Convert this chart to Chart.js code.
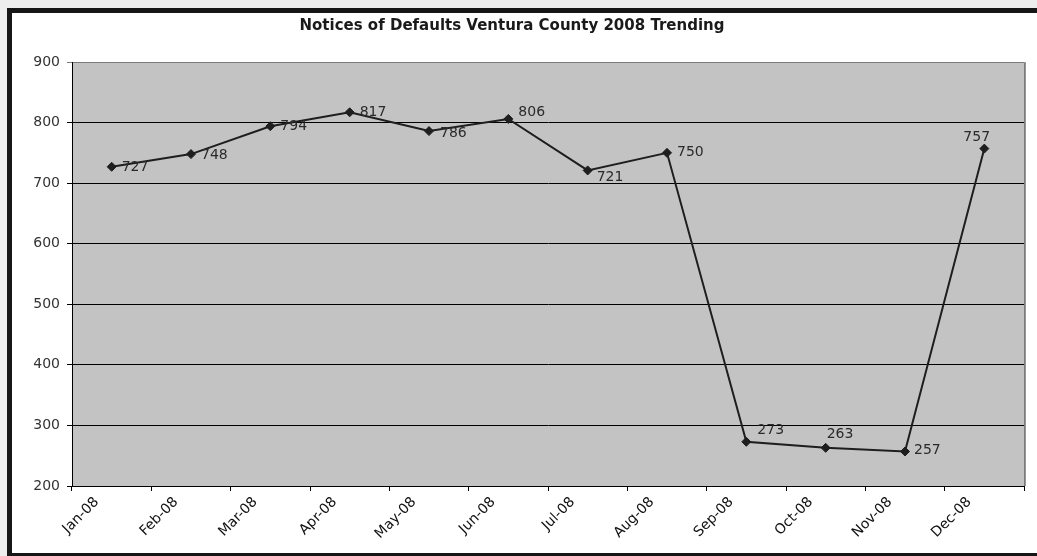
<!DOCTYPE html>
<html>
<head>
<meta charset="utf-8">
<title>Notices of Defaults Ventura County 2008 Trending</title>
<script src="https://cdn.jsdelivr.net/npm/chart.js@4/dist/chart.umd.min.js"></script>
<style>
  html, body { margin: 0; padding: 0; background: #ffffff; }
  #wrap { position: relative; width: 1037px; height: 556px; }
</style>
</head>
<body>
<div id="wrap"><canvas id="chart"></canvas></div>
<script>
// Monthly notices of default, Ventura County, 2008
const months = ['Jan-08', 'Feb-08', 'Mar-08', 'Apr-08', 'May-08', 'Jun-08',
                'Jul-08', 'Aug-08', 'Sep-08', 'Oct-08', 'Nov-08', 'Dec-08'];
const notices = [727, 748, 794, 817, 786, 806, 721, 750, 273, 263, 257, 757];
const yTicks = [200, 300, 400, 500, 600, 700, 800, 900];

// Where each value label sits relative to its marker (dx, dy in px)
const labelPlacement = [
  [10, 1], [10, 1], [10, 0], [10, 0], [11, 2], [10, -7],
  [9, 7], [10, 0], [11, -11], [1, -13], [9, -1], [-21, -11]
];

const INK = '#1e1e1e';
const FONT = '"DejaVu Sans", Verdana, sans-serif';

// Frame, page edge and grey plot panel
const framePlugin = {
  id: 'frame',
  beforeDraw(chart) {
    const { ctx, width, height, chartArea: a } = chart;
    ctx.save();
    ctx.fillStyle = '#ffffff';
    ctx.fillRect(0, 0, width, height);
    ctx.fillStyle = '#eeeeee';
    ctx.fillRect(0, 0, width, 8);
    ctx.fillRect(0, 0, 7, height);
    ctx.fillStyle = '#161616';
    ctx.fillRect(7, 8, width - 7, 5);
    ctx.fillRect(7, 8, 5, height - 8);
    ctx.fillRect(7, height - 3, width - 7, 3);
    // plot panel
    ctx.fillStyle = '#c3c3c3';
    ctx.fillRect(a.left, a.top, a.right - a.left, a.bottom - a.top);
    ctx.strokeStyle = '#7a7a7a';
    ctx.lineWidth = 1;
    ctx.beginPath();
    ctx.moveTo(a.left, a.top + 0.5);
    ctx.lineTo(a.right + 0.5, a.top + 0.5);
    ctx.lineTo(a.right + 0.5, a.bottom);
    ctx.stroke();
    ctx.strokeStyle = '#9a9a9a';
    ctx.beginPath();
    ctx.moveTo(a.right + 1.5, a.top);
    ctx.lineTo(a.right + 1.5, a.bottom);
    ctx.stroke();
    ctx.restore();
  }
};

// Value labels next to each marker
const valueLabels = {
  id: 'valueLabels',
  afterDatasetsDraw(chart) {
    const { ctx } = chart;
    const meta = chart.getDatasetMeta(0);
    const values = chart.data.datasets[0].data;
    ctx.save();
    ctx.font = '14px ' + FONT;
    ctx.fillStyle = '#2a2a2a';
    ctx.textAlign = 'left';
    ctx.textBaseline = 'middle';
    meta.data.forEach((pt, i) => {
      const [dx, dy] = labelPlacement[i];
      ctx.fillText(String(values[i]), pt.x + dx, pt.y + dy);
    });
    ctx.restore();
  }
};

new Chart(document.getElementById('chart'), {
  type: 'line',
  data: {
    labels: months,
    datasets: [{
      data: notices,
      borderColor: INK,
      borderWidth: 2,
      tension: 0,
      pointStyle: 'rectRot',
      pointRadius: 4.5,
      pointBackgroundColor: INK,
      pointBorderColor: INK,
      pointBorderWidth: 1
    }]
  },
  options: {
    responsive: true,
    maintainAspectRatio: false,
    animation: false,
    layout: { padding: { left: 0, right: 13, top: 0, bottom: 0 } },
    plugins: {
      legend: { display: false },
      tooltip: { enabled: false },
      title: {
        display: true,
        text: 'Notices of Defaults Ventura County 2008 Trending',
        color: '#1a1a1a',
        font: { family: FONT, size: 15, weight: 'bold', lineHeight: 1.2 },
        padding: { top: 17, bottom: 27 }
      }
    },
    scales: {
      x: {
        type: 'category',
        offset: true,
        afterFit(scale) { scale.height = 70; },
        grid: {
          offset: true,
          display: true,
          drawOnChartArea: false,
          drawTicks: true,
          tickLength: 5,
          color: '#000000',
          lineWidth: 1
        },
        border: { display: true, color: '#000000', width: 1 },
        ticks: {
          autoSkip: false,
          minRotation: 45,
          maxRotation: 45,
          padding: 3,
          labelOffset: -15,
          color: '#111111',
          font: { family: FONT, size: 14 }
        }
      },
      y: {
        min: 200,
        max: 900,
        afterFit(scale) { scale.width = 72; },
        afterBuildTicks(scale) { scale.ticks = yTicks.map(v => ({ value: v })); },
        grid: {
          drawTicks: true,
          tickLength: 5,
          lineWidth: 1,
          color: (c) => (c.tick && c.tick.value === 900) ? '#7a7a7a' : '#000000'
        },
        border: { display: true, color: '#000000', width: 1 },
        ticks: {
          padding: 7,
          color: '#333333',
          font: { family: FONT, size: 14 }
        }
      }
    }
  },
  plugins: [framePlugin, valueLabels]
});
</script>
</body>
</html>
